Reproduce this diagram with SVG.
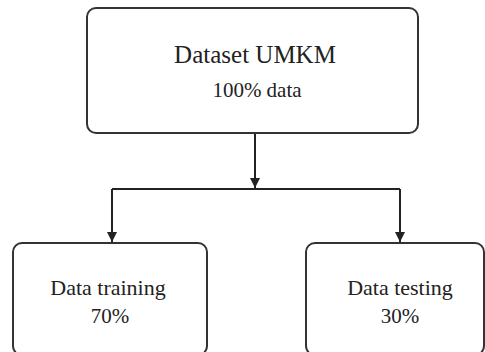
<svg xmlns="http://www.w3.org/2000/svg" width="485" height="352" viewBox="0 0 485 352">
<style>
.box{fill:#fff;stroke:#333;stroke-width:2}
.t{font-family:"Liberation Serif","Times New Roman",serif;fill:#222;text-anchor:middle}
.c{stroke:#222;stroke-width:2;fill:none}
</style>
<defs>
<marker id="ah" viewBox="0 0 10 10" refX="10" refY="5" markerWidth="5" markerHeight="5" orient="auto" markerUnits="strokeWidth">
<path d="M0,0 L10,5 L0,10 z" fill="#222"/>
</marker>
</defs>
<rect width="485" height="352" fill="#fff"/>
<g id="connectors">
<path class="c" d="M255,133 V188" marker-end="url(#ah)"/>
<path class="c" d="M112,189 H400"/>
<path class="c" d="M112,189 V242" marker-end="url(#ah)"/>
<path class="c" d="M400,189 V242" marker-end="url(#ah)"/>
</g>
<g id="dataset">
<rect class="box" x="87" y="8" width="331" height="125" rx="9"/>
<text class="t" x="255" y="63" font-size="25">Dataset UMKM</text>
<text class="t" x="257" y="97" font-size="21">100% data</text>
</g>
<g id="training">
<rect class="box" x="13" y="243" width="194" height="112" rx="9"/>
<text class="t" x="108" y="295" font-size="22">Data training</text>
<text class="t" x="110" y="323" font-size="21">70%</text>
</g>
<g id="testing">
<rect class="box" x="306" y="243" width="178" height="112" rx="9"/>
<text class="t" x="400" y="295" font-size="22">Data testing</text>
<text class="t" x="400" y="323" font-size="21">30%</text>
</g>
</svg>
